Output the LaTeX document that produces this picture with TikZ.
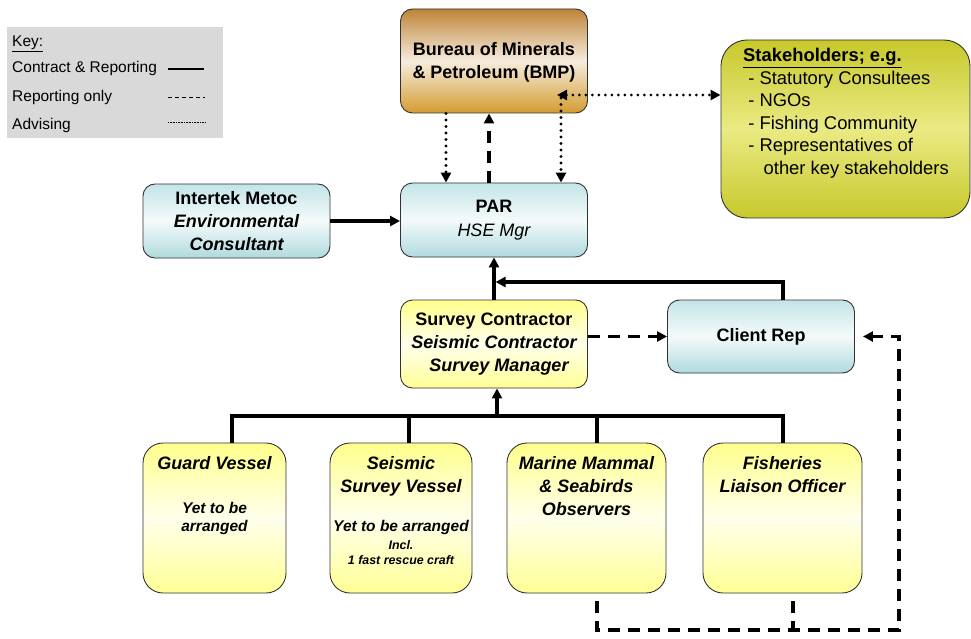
\documentclass[tikz,border=0pt]{standalone}
\usepackage{fontspec}
\setmainfont{Liberation Sans}
\usetikzlibrary{arrows.meta,calc}
\definecolor{keygray}{RGB}{217,217,217}
\definecolor{bmptop}{RGB}{190,132,56}
\definecolor{bmpmid}{RGB}{246,236,222}
\definecolor{bmpbot}{RGB}{212,156,48}
\definecolor{cyantop}{RGB}{196,228,232}
\definecolor{cyanmid}{RGB}{244,250,250}
\definecolor{cyanbot}{RGB}{176,218,222}
\definecolor{yeltop}{RGB}{255,255,140}
\definecolor{yelmid}{RGB}{255,255,236}
\definecolor{yelbot}{RGB}{255,255,150}
\definecolor{stkedge}{RGB}{200,200,44}
\definecolor{stkmid}{RGB}{234,234,132}
\definecolor{boxline}{RGB}{50,50,50}
\begin{document}
\begin{tikzpicture}[x=1pt,y=-1pt,
  box/.style={draw=boxline,line width=0.9pt,rounded corners=12pt,inner sep=0pt,align=center,
    font=\fontsize{18}{23}\selectfont\bfseries},
  bmpbox/.style={box,top color=bmptop,bottom color=bmpbot,middle color=bmpmid},
  cyanbox/.style={box,top color=cyantop,bottom color=cyanbot,middle color=cyanmid},
  yelbox/.style={box,top color=yeltop,bottom color=yelbot,middle color=yelmid},
  lowbox/.style={yelbox,rounded corners=20pt,minimum height=150pt},
  lowtext/.style={inner sep=0pt,align=center,anchor=north,font=\fontsize{18}{23}\selectfont\bfseries\itshape},
  keytext/.style={inner sep=0pt,anchor=west,font=\fontsize{15.5}{18}\selectfont},
  tip/.style={-{Triangle[length=10pt,width=10pt]}},
  conn/.style={line width=3.2pt},
  dashconn/.style={line width=3.2pt,dash pattern=on 12pt off 8pt},
  dotconn/.style={line width=3.2pt,line cap=round,dash pattern=on 0pt off 6.5pt},
]
\useasboundingbox (0,0) rectangle (971,639);

% Key
\node[fill=keygray,minimum width=216pt,minimum height=111pt,inner sep=0pt] (key) at (115,82.5) {};
\node[keytext] (k0) at (12,44) {\underline{Key:}};
\node[keytext] (k1) at (12,68) {Contract \& Reporting};
\node[keytext] (k2) at (12,97) {Reporting only};
\node[keytext] (k3) at (12,125) {Advising};
\coordinate (l1a) at (168,69); \coordinate (l1b) at (204,69);
\coordinate (l2a) at (168,97); \coordinate (l2b) at (205,97);
\coordinate (l3a) at (168,122); \coordinate (l3b) at (205,122);
\draw[line width=2pt] (l1a) -- (l1b);
\draw[line width=0.9pt,dash pattern=on 4pt off 3pt] (l2a) -- (l2b);
\draw[line width=0.7pt,dash pattern=on 0.8pt off 0.8pt] (l3a) -- (l3b);

% Boxes
\node[bmpbox,minimum width=187pt,minimum height=104pt] (bmp) at (494,61)
  {\rule{0pt}{16pt}Bureau of Minerals\\[0pt]\& Petroleum (BMP)};
\node[cyanbox,minimum width=187pt,minimum height=74pt] (par) at (494,220)
  {PAR\\[1pt]\mdseries\itshape HSE Mgr};
\node[cyanbox,minimum width=187pt,minimum height=74pt] (ik) at (236.5,221)
  {Intertek Metoc\\\itshape Environmental\\\itshape Consultant};
\node[yelbox,minimum width=187pt,minimum height=88pt] (sc) at (494,344)
  {Survey Contractor\\\itshape Seismic Contractor\\\itshape\ \ Survey Manager};
\node[cyanbox,minimum width=187pt,minimum height=73pt] (cr) at (761,336.5) {Client Rep};
\node[box,rounded corners=26pt,top color=stkedge,bottom color=stkedge,middle color=stkmid,
  minimum width=249pt,minimum height=178pt] (stk) at (845.5,129) {};
\node[inner sep=0pt,anchor=north west,align=left,font=\fontsize{18.4}{22.6}\selectfont] (stkt) at (743,48)
  {\textbf{\underline{Stakeholders; e.g.}}\\
   \ - Statutory Consultees\\
   \ - NGOs\\
   \ - Fishing Community\\
   \ - Representatives of\\
   \ \ \ \ other key stakeholders};

\node[lowbox,minimum width=143pt] (gv) at (214.5,518) {};
\node[lowbox,minimum width=142pt] (sv) at (401,518) {};
\node[lowbox,minimum width=159pt] (mm) at (586.5,518) {};
\node[lowbox,minimum width=159pt] (fl) at (782.5,518) {};

\node[lowtext] (gvt1) at (214.5,456) {Guard Vessel};
\node[lowtext,font=\fontsize{15.5}{18}\selectfont\bfseries\itshape] (gvt2) at (214.5,502) {Yet to be\\arranged};
\node[lowtext] (svt1) at (401,456) {Seismic\\Survey Vessel};
\node[lowtext,font=\fontsize{15.5}{18}\selectfont\bfseries\itshape] (svt2) at (401,520) {Yet to be arranged};
\node[lowtext,font=\fontsize{12.4}{15.5}\selectfont\bfseries\itshape] (svt3) at (401,540) {Incl.\\1 fast rescue craft};
\node[lowtext] (mmt) at (586.5,456) {Marine Mammal\\\& Seabirds\\Observers};
\node[lowtext] (flt) at (782.5,456) {Fisheries\\Liaison Officer};

% Connectors BMP <-> PAR
\draw[dotconn,tip] ([xshift=-48pt]bmp.south) -- ([xshift=-48pt]par.north);
\draw[dashconn,tip] ([xshift=-5pt]par.north) -- ([xshift=-5pt]bmp.south);
\coordinate (bin) at (561,98);
\draw[dotconn,tip] (bin) -- (bin |- par.north);
\coordinate (bstk) at (557,95);
\draw[dotconn,{Triangle[length=10pt,width=10pt]}-{Triangle[length=10pt,width=10pt]}] (bstk) -- (bstk -| stk.west);

% Intertek -> PAR
\draw[conn,tip] (ik.east) -- (par.west |- ik.east);

% Survey Contractor -> PAR, Client Rep -> line
\draw[conn,tip] (sc.north) -- (par.south);
\coordinate (crj) at (494,282);
\draw[conn,tip] ([xshift=22pt]cr.north) |- ([xshift=1.6pt]crj);

% Survey Contractor -> Client Rep
\draw[dashconn,tip] (sc.east |- cr.west) -- (cr.west);

% Tree bus
\coordinate (bus) at (497,416);
\draw[conn,tip] (bus) -- (bus |- sc.south);
\draw[conn] ([xshift=17.5pt]gv.north) |- (bus) -| ([xshift=0.5pt]fl.north);
\draw[conn] ([xshift=8pt]sv.north) -- ([xshift=8pt]sv.north |- bus);
\draw[conn] ([xshift=10.5pt]mm.north) -- ([xshift=10.5pt]mm.north |- bus);

% Bottom dashed return to Client Rep
\coordinate (dr) at (899,630);
\draw[dashconn,dash phase=12pt,tip,shorten >=8pt] ([xshift=10.5pt]mm.south) |- (dr) |- (cr.east);
\draw[dashconn,dash phase=12pt] ([xshift=10.5pt]fl.south) -- ([xshift=10.5pt]fl.south |- dr);
\end{tikzpicture}
\end{document}
